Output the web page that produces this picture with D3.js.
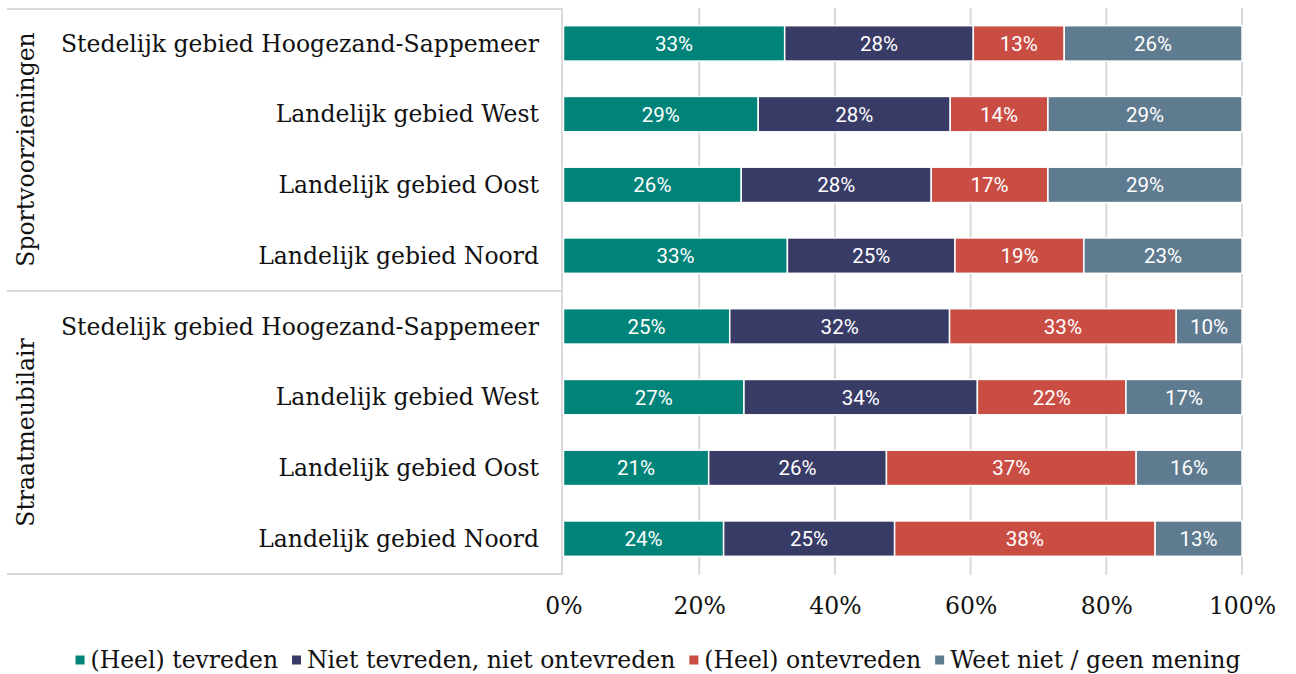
<!DOCTYPE html>
<html>
<head>
<meta charset="utf-8">
<script src="https://cdn.jsdelivr.net/npm/d3@7"></script>
<style>
  body { margin: 0; background: #fff; }
  svg { display: block; }
</style>
</head>
<body>
<div id="chart"></div>
<script>
// Data
const groups = ['Sportvoorzieningen', 'Straatmeubilair'];
const areas = [
  'Stedelijk gebied Hoogezand-Sappemeer',
  'Landelijk gebied West',
  'Landelijk gebied Oost',
  'Landelijk gebied Noord'
];
const seriesNames = [
  '(Heel) tevreden',
  'Niet tevreden, niet ontevreden',
  '(Heel) ontevreden',
  'Weet niet / geen mening'
];
const seriesColors = ['#00847a', '#393b67', '#ca4d44', '#5f7b8f'];
// per row, in series order (percentages)
const sportValues = [
  [32.6, 27.8, 13.4, 26.2],
  [28.7, 28.3, 14.4, 28.6],
  [26.2, 28.0, 17.2, 28.6],
  [33.0, 24.7, 19.0, 23.3]
];
const straatValues = [
  [24.5, 32.4, 33.4, 9.7],
  [26.6, 34.4, 21.9, 17.1],
  [21.4, 26.2, 36.8, 15.6],
  [23.6, 25.2, 38.4, 12.8]
];
const xTicks = [0, 20, 40, 60, 80, 100];

const CONFIG = {
  width: 1296,
  height: 674,
  plot: { left: 563.5, right: 1242, top: 8, bottom: 574 },
  tableLeft: 7,
  serif: "'DejaVu Serif', serif",
  sans: "Roboto, 'Open Sans', sans-serif",
  serifSize: '23.5px',
  grid: '#d9d9d9'
};

const rows = [];
[sportValues, straatValues].forEach((vals, gi) => {
  vals.forEach((v, i) => {
    rows.push({ id: gi + '|' + i, group: groups[gi], area: areas[i], values: v });
  });
});

const svg = d3.select('#chart').append('svg')
  .attr('width', CONFIG.width)
  .attr('height', CONFIG.height);

const x = d3.scaleLinear()
  .domain([0, 100])
  .range([CONFIG.plot.left, CONFIG.plot.right]);

const y = d3.scaleBand()
  .domain(rows.map(d => d.id))
  .range([CONFIG.plot.top, CONFIG.plot.bottom])
  .paddingInner(0.5)
  .paddingOuter(0.25);

// Gridlines
svg.append('g')
  .selectAll('line')
  .data(xTicks.slice(1))
  .join('line')
  .attr('x1', d => x(d))
  .attr('x2', d => x(d))
  .attr('y1', CONFIG.plot.top)
  .attr('y2', CONFIG.plot.bottom + 1)
  .attr('stroke', CONFIG.grid)
  .attr('stroke-width', 2);

// Table frame on the left
const frame = svg.append('g')
  .attr('stroke', CONFIG.grid)
  .attr('stroke-width', 2)
  .attr('fill', 'none');
const mid = (y(rows[3].id) + y.bandwidth() + y(rows[4].id)) / 2;
frame.append('path')
  .attr('d', `M${CONFIG.tableLeft},${CONFIG.plot.top + 1}H${CONFIG.plot.left - 1.5}V${CONFIG.plot.bottom}H${CONFIG.tableLeft}`);
frame.append('line')
  .attr('x1', CONFIG.tableLeft).attr('x2', CONFIG.plot.left - 1.5)
  .attr('y1', mid).attr('y2', mid);

// Stacked bars
const stack = d3.stack()
  .keys(d3.range(seriesNames.length))
  .value((d, k) => d.values[k]);
const stacked = stack(rows);

const layers = svg.append('g')
  .selectAll('g')
  .data(stacked)
  .join('g')
  .attr('fill', d => seriesColors[d.key]);

layers.selectAll('rect')
  .data(d => d)
  .join('rect')
  .attr('x', d => x(d[0]))
  .attr('y', d => y(d.data.id))
  .attr('width', d => x(d[1]) - x(d[0]))
  .attr('height', y.bandwidth())
  .attr('stroke', '#fff')
  .attr('stroke-width', 1.5);

layers.selectAll('text')
  .data(d => d)
  .join('text')
  .attr('x', d => (x(d[0]) + x(d[1])) / 2)
  .attr('y', d => y(d.data.id) + y.bandwidth() / 2)
  .attr('dy', '0.36em')
  .attr('text-anchor', 'middle')
  .attr('fill', '#fff')
  .style('font-family', CONFIG.sans)
  .style('font-size', '20.5px')
  .text(d => Math.round(d[1] - d[0]) + '%');

// Row labels
svg.append('g')
  .selectAll('text')
  .data(rows)
  .join('text')
  .attr('x', 539)
  .attr('y', d => y(d.id) + y.bandwidth() / 2)
  .attr('dy', '0.35em')
  .attr('text-anchor', 'end')
  .attr('fill', '#111')
  .style('font-family', CONFIG.serif)
  .style('font-size', CONFIG.serifSize)
  .text(d => d.area);

// Group labels (rotated)
const groupCenters = [
  (CONFIG.plot.top + mid) / 2,
  (mid + CONFIG.plot.bottom) / 2
];
svg.append('g')
  .selectAll('text')
  .data(groups)
  .join('text')
  .attr('transform', (d, i) => `translate(26, ${groupCenters[i]}) rotate(-90)`)
  .attr('dy', '0.35em')
  .attr('text-anchor', 'middle')
  .attr('fill', '#111')
  .style('font-family', CONFIG.serif)
  .style('font-size', CONFIG.serifSize)
  .text(d => d);

// X axis
const xAxis = svg.append('g')
  .attr('transform', `translate(0, ${CONFIG.plot.bottom})`)
  .call(d3.axisBottom(x).tickValues(xTicks).tickFormat(d => d + '%').tickSize(0).tickPadding(23));
xAxis.select('.domain').remove();
xAxis.selectAll('text')
  .attr('fill', '#111')
  .style('font-family', CONFIG.serif)
  .style('font-size', CONFIG.serifSize);

// Legend
const legend = svg.append('g').attr('transform', 'translate(0, 660)');
const items = legend.selectAll('g')
  .data(seriesNames)
  .join('g');
items.append('rect')
  .attr('width', 9)
  .attr('height', 9)
  .attr('y', -4.5)
  .attr('fill', (d, i) => seriesColors[i]);
items.append('text')
  .attr('x', 15)
  .attr('dy', '0.35em')
  .attr('fill', '#111')
  .style('font-family', CONFIG.serif)
  .style('font-size', CONFIG.serifSize)
  .text(d => d);
const widths = [];
items.each(function() { widths.push(this.getBBox().width); });
const gap = 14;
const total = d3.sum(widths) + gap * (widths.length - 1);
let offset = (CONFIG.width - total) / 2 + 10;
items.attr('transform', (d, i) => {
  const t = `translate(${offset}, 0)`;
  offset += widths[i] + gap;
  return t;
});
</script>
</body>
</html>
